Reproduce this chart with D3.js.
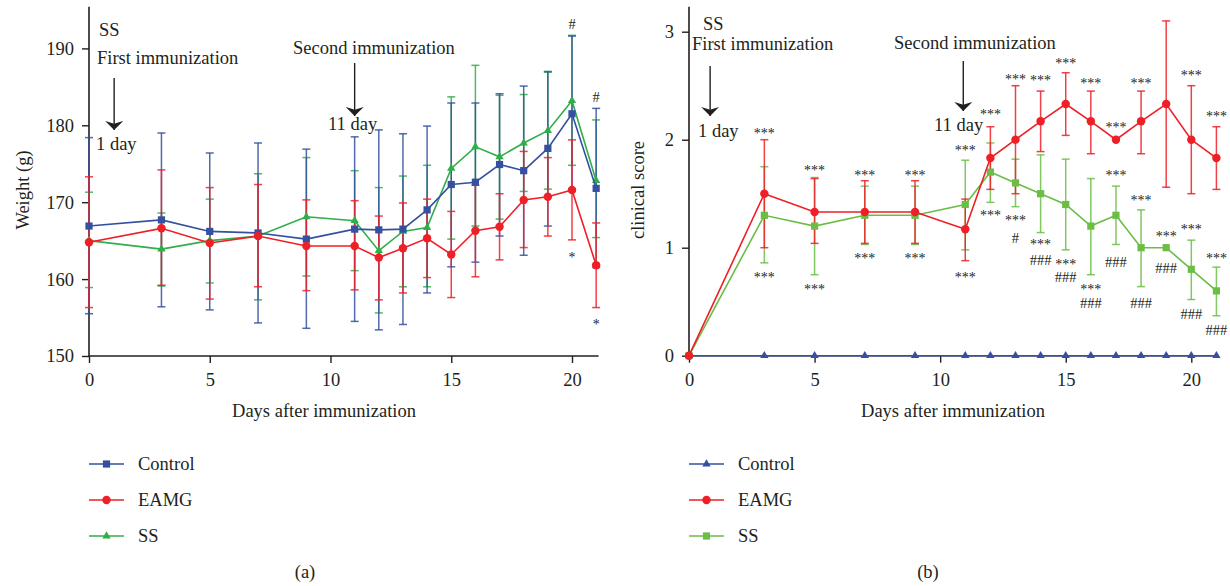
<!DOCTYPE html>
<html>
<head>
<meta charset="utf-8">
<script src="https://cdnjs.cloudflare.com/ajax/libs/d3/7.8.5/d3.min.js"></script>
<style>
  body { margin: 0; background: #fff; }
  svg text { font-family: "Liberation Serif", "DejaVu Serif", serif; fill: #231f20; }
</style>
</head>
<body>
<div id="chart"></div>
<script>
// days of measurement
const days = [0, 3, 5, 7, 9, 11, 12, 13, 14, 15, 16, 17, 18, 19, 20, 21];

// (a) body weight (g): mean, upper and lower end of error bar
const weightControl   = [166.9, 167.7, 166.2, 166.0, 165.2, 166.5, 166.4, 166.5, 169.0, 172.3, 172.6, 174.9, 174.1, 177.0, 181.5, 171.8];
const weightControlHi = [178.4, 179.0, 176.4, 177.7, 176.9, 178.5, 179.4, 178.9, 179.9, 182.9, 182.9, 184.1, 185.1, 187.0, 191.6, 182.2];
const weightControlLo = [155.5, 156.4, 156.0, 154.3, 153.6, 154.5, 153.4, 154.1, 158.2, 161.6, 162.2, 165.6, 163.1, 166.9, 171.4, 161.5];
const weightEAMG   = [164.8, 166.6, 164.7, 165.6, 164.3, 164.3, 162.8, 164.0, 165.3, 163.2, 166.3, 166.8, 170.3, 170.7, 171.6, 161.8];
const weightEAMGHi = [173.3, 174.2, 171.9, 172.3, 170.3, 170.2, 168.2, 169.9, 170.4, 168.8, 172.2, 171.1, 176.6, 175.8, 178.1, 167.3];
const weightEAMGLo = [156.3, 159.2, 157.4, 159.0, 158.5, 158.6, 157.3, 158.2, 160.2, 157.6, 160.3, 162.5, 164.1, 165.6, 165.1, 156.3];
const weightSS   = [165.0, 163.9, 165.0, 165.6, 168.1, 167.6, 163.7, 166.2, 166.7, 174.4, 177.2, 175.9, 177.7, 179.3, 183.2, 172.8];
const weightSSHi = [171.3, 168.6, 170.4, 173.7, 175.8, 174.1, 171.9, 173.4, 174.8, 183.7, 187.8, 183.9, 184.0, 186.9, 191.7, 180.7];
const weightSSLo = [158.9, 159.1, 159.5, 157.3, 160.4, 161.1, 155.6, 159.0, 159.0, 165.2, 166.9, 167.8, 171.4, 171.7, 174.8, 165.4];
const weightTicks = [150, 160, 170, 180, 190];
// significance marks on (a)
const weightMarkDays   = [20, 21, 20, 21];
const weightMarkValues = [193.2, 183.7, 163.3, 154.6];
const weightMarkTexts  = ["#", "#", "*", "*"];

// (b) clinical score
const clinControl   = [0, 0, 0, 0, 0, 0, 0, 0, 0, 0, 0, 0, 0, 0, 0, 0];
const clinEAMG   = [0, 1.50, 1.33, 1.33, 1.33, 1.17, 1.83, 2.00, 2.17, 2.33, 2.17, 2.00, 2.17, 2.33, 2.00, 1.83];
const clinEAMGHi = [0, 2.00, 1.64, 1.62, 1.62, 1.45, 2.12, 2.50, 2.45, 2.62, 2.45, 2.00, 2.45, 3.10, 2.50, 2.12];
const clinEAMGLo = [0, 1.00, 1.04, 1.04, 1.04, 0.88, 1.54, 1.50, 1.89, 2.04, 1.87, 2.00, 1.87, 1.56, 1.50, 1.54];
const clinSS   = [0, 1.30, 1.20, 1.30, 1.30, 1.40, 1.70, 1.60, 1.50, 1.40, 1.20, 1.30, 1.00, 1.00, 0.80, 0.60];
const clinSSHi = [0, 1.75, 1.65, 1.57, 1.57, 1.81, 1.97, 1.82, 1.86, 1.82, 1.64, 1.57, 1.35, 1.00, 1.07, 0.82];
const clinSSLo = [0, 0.86, 0.75, 1.03, 1.03, 0.98, 1.42, 1.38, 1.14, 0.98, 0.75, 1.03, 0.64, 1.00, 0.52, 0.37];
const clinTicks = [0, 1, 2, 3];
// significance marks on (b)
const clinMarkDays   = [3, 5, 7, 9, 11, 12, 13, 14, 15, 16, 17, 18, 20, 21,
                        3, 5, 7, 9, 11, 12, 13, 13, 14, 14, 15, 15, 16, 16, 17, 17, 18, 18, 19, 19, 20, 20, 21, 21];
const clinMarkValues = [2.09, 1.75, 1.70, 1.70, 1.93, 2.27, 2.59, 2.58, 2.74, 2.55, 2.15, 2.55, 2.63, 2.25,
                        0.76, 0.65, 0.93, 0.93, 0.76, 1.33, 1.28, 1.09, 1.06, 0.89, 0.88, 0.73, 0.65, 0.49, 1.70, 0.87, 1.47, 0.49, 1.14, 0.81, 1.20, 0.39, 0.93, 0.24];
const clinMarkTexts  = ["***", "***", "***", "***", "***", "***", "***", "***", "***", "***", "***", "***", "***", "***",
                        "***", "***", "***", "***", "***", "***", "***", "#", "***", "###", "***", "###", "***", "###", "***", "###", "***", "###", "***", "###", "***", "###", "***", "###"];

const xTicks = [0, 5, 10, 15, 20];
const groupNames = ["Control", "EAMG", "SS"];

const blue = "#34509f", red = "#ee1f26", greenA = "#2fae4a", greenB = "#6bbd46", ink = "#231f20";

const svg = d3.select("#chart").append("svg")
    .attr("width", 1230)
    .attr("height", 586);

// arrow head used by the immunization arrows
svg.append("defs").append("marker")
    .attr("id", "arrow")
    .attr("viewBox", "0 0 10 20")
    .attr("refX", 10).attr("refY", 10)
    .attr("markerWidth", 9).attr("markerHeight", 18)
    .attr("markerUnits", "userSpaceOnUse")
    .attr("orient", "auto")
    .append("path")
    .attr("d", "M0,0 L10,10 L0,20 L3,10 Z")
    .attr("fill", ink);

function symbolFor(shape) {
    if (shape === "square") return d3.symbol(d3.symbolSquare, 52);
    if (shape === "circle") return d3.symbol(d3.symbolCircle, 56);
    return d3.symbol(d3.symbolTriangle, 30);
}

function drawPanel(opt) {
    let g = svg.append("g");
    let x = d3.scaleLinear().domain([0, 20]).range(opt.xRange);
    let y = d3.scaleLinear().domain(opt.yDomain).range(opt.yRange);
    let y0 = opt.yRange[0];

    // axes
    g.append("line")
        .attr("x1", x(0)).attr("x2", x(0))
        .attr("y1", y0).attr("y2", y(opt.yTop))
        .attr("stroke", ink).attr("stroke-width", 1.6);
    g.append("line")
        .attr("x1", x(0)).attr("x2", x(opt.xEnd))
        .attr("y1", y0).attr("y2", y0)
        .attr("stroke", ink).attr("stroke-width", 1.6);

    let yAxis = g.append("g")
        .attr("transform", "translate(" + x(0) + ",0)")
        .call(d3.axisLeft(y).tickValues(opt.yTicks).tickFormat(d3.format("d")).tickSize(7).tickPadding(8));
    yAxis.select(".domain").remove();
    yAxis.selectAll("line").attr("stroke", ink).attr("stroke-width", 1.4);
    yAxis.selectAll("text").style("font-size", "18.5px").attr("fill", ink)
        .style("font-family", "'Liberation Serif', serif");

    let xAxis = g.append("g")
        .attr("transform", "translate(0," + y0 + ")")
        .call(d3.axisBottom(x).tickValues(xTicks).tickSize(7).tickPadding(10));
    xAxis.select(".domain").remove();
    xAxis.selectAll("line").attr("stroke", ink).attr("stroke-width", 1.4);
    xAxis.selectAll("text").style("font-size", "18.5px").attr("fill", ink)
        .style("font-family", "'Liberation Serif', serif");

    // axis titles
    g.append("text")
        .attr("x", opt.xLabelX)
        .attr("y", 417)
        .attr("text-anchor", "middle")
        .style("font-size", "18.5px")
        .text("Days after immunization");
    g.append("text")
        .attr("transform", "translate(" + (opt.xRange[0] + opt.yLabelDx) + ",190) rotate(-90)")
        .attr("text-anchor", "middle")
        .style("font-size", "18.5px")
        .text(opt.yLabel);

    // series: error bars first, then lines and markers
    opt.series.forEach(function(s) {
        let pts = days.map(function(d, i) {
            return {day: d, v: s.values[i], hi: s.hi ? s.hi[i] : null, lo: s.lo ? s.lo[i] : null};
        });
        let eg = g.append("g").attr("stroke", s.color).attr("stroke-width", 1.5)
            .attr("stroke-opacity", 0.85);
        pts.filter(function(p) { return p.hi !== null && p.hi - p.lo > 0.001; })
            .forEach(function(p) {
                let cx = x(p.day);
                eg.append("line").attr("x1", cx).attr("x2", cx)
                    .attr("y1", y(p.hi)).attr("y2", y(p.lo));
                eg.append("line").attr("x1", cx - 4).attr("x2", cx + 4)
                    .attr("y1", y(p.hi)).attr("y2", y(p.hi));
                eg.append("line").attr("x1", cx - 4).attr("x2", cx + 4)
                    .attr("y1", y(p.lo)).attr("y2", y(p.lo));
            });
        s.pts = pts;
    });
    opt.series.forEach(function(s) {
        let line = d3.line().x(function(p) { return x(p.day); }).y(function(p) { return y(p.v); });
        g.append("path").datum(s.pts)
            .attr("d", line)
            .attr("fill", "none")
            .attr("stroke", s.color)
            .attr("stroke-width", 1.6);
        g.selectAll(null).data(s.pts).enter().append("path")
            .attr("d", symbolFor(s.shape))
            .attr("transform", function(p) { return "translate(" + x(p.day) + "," + y(p.v) + ")"; })
            .attr("fill", s.color);
    });

    // significance marks
    opt.markTexts.forEach(function(t, i) {
        let isStar = t.indexOf("*") >= 0;
        g.append("text")
            .attr("x", x(opt.markDays[i]))
            .attr("y", y(opt.markValues[i]) + (isStar ? 8 : 5))
            .attr("text-anchor", "middle")
            .style("fill", ink)
            .style("font-size", isStar ? "14px" : "14.5px")
            .text(t);
    });

    // immunization notes and arrows
    opt.notes.forEach(function(n) {
        g.append("text")
            .attr("x", n.x).attr("y", n.y)
            .style("font-size", "18.5px")
            .text(n.text);
    });
    opt.arrows.forEach(function(a) {
        g.append("line")
            .attr("x1", x(a.day) + a.dx).attr("x2", x(a.day) + a.dx)
            .attr("y1", a.y1).attr("y2", a.y2)
            .attr("stroke", ink).attr("stroke-width", 1.4)
            .attr("marker-end", "url(#arrow)");
    });

    // legend
    let lg = g.append("g");
    opt.series.slice().sort(function(a, b) { return a.order - b.order; }).forEach(function(s, i) {
        let ly = 464 + i * 36;
        let lx = opt.xRange[0];
        lg.append("line").attr("x1", lx).attr("x2", lx + 35)
            .attr("y1", ly).attr("y2", ly)
            .attr("stroke", s.color).attr("stroke-width", 1.6);
        lg.append("path").attr("d", symbolFor(s.shape))
            .attr("transform", "translate(" + (lx + 17.5) + "," + ly + ")")
            .attr("fill", s.color);
        lg.append("text").attr("x", lx + 49).attr("y", ly + 6)
            .style("font-size", "18.5px")
            .text(groupNames[s.order]);
    });

    g.append("text")
        .attr("x", opt.captionX).attr("y", 578)
        .attr("text-anchor", "middle")
        .style("font-size", "18.5px")
        .text(opt.caption);
}

drawPanel({
    xRange: [89, 572],
    xEnd: 21.1,
    yDomain: [150, 190],
    yRange: [356, 48.4],
    yTop: 195.4,
    yTicks: weightTicks,
    yLabel: "Weight (g)",
    yLabelDx: -60,
    xLabelX: 324,
    series: [
        {values: weightSS, hi: weightSSHi, lo: weightSSLo, color: greenA, shape: "triangle", order: 2},
        {values: weightControl, hi: weightControlHi, lo: weightControlLo, color: blue, shape: "square", order: 0},
        {values: weightEAMG, hi: weightEAMGHi, lo: weightEAMGLo, color: red, shape: "circle", order: 1}
    ],
    markDays: weightMarkDays,
    markValues: weightMarkValues,
    markTexts: weightMarkTexts,
    notes: [
        {x: 99, y: 36, text: "SS"},
        {x: 97, y: 64, text: "First immunization"},
        {x: 96, y: 150, text: "1 day"},
        {x: 293, y: 54, text: "Second immunization"},
        {x: 328, y: 130, text: "11 day"}
    ],
    arrows: [{day: 1, dx: 1, y1: 78, y2: 130}, {day: 11, dx: 0, y1: 63, y2: 116}],
    caption: "(a)",
    captionX: 305
});

drawPanel({
    xRange: [689, 1191.3],
    xEnd: 21.05,
    yDomain: [0, 3],
    yRange: [355.7, 31.7],
    yTop: 3.23,
    yTicks: clinTicks,
    yLabel: "clinical score",
    yLabelDx: -45,
    xLabelX: 953,
    series: [
        {values: clinControl, hi: null, lo: null, color: blue, shape: "triangle", order: 0},
        {values: clinSS, hi: clinSSHi, lo: clinSSLo, color: greenB, shape: "square", order: 2},
        {values: clinEAMG, hi: clinEAMGHi, lo: clinEAMGLo, color: red, shape: "circle", order: 1}
    ],
    markDays: clinMarkDays,
    markValues: clinMarkValues,
    markTexts: clinMarkTexts,
    notes: [
        {x: 703, y: 30, text: "SS"},
        {x: 692, y: 50, text: "First immunization"},
        {x: 698, y: 137, text: "1 day"},
        {x: 894, y: 49, text: "Second immunization"},
        {x: 934, y: 131, text: "11 day"}
    ],
    arrows: [{day: 1, dx: -4, y1: 66, y2: 116}, {day: 11, dx: -2, y1: 61, y2: 111}],
    caption: "(b)",
    captionX: 928
});
</script>
</body>
</html>
